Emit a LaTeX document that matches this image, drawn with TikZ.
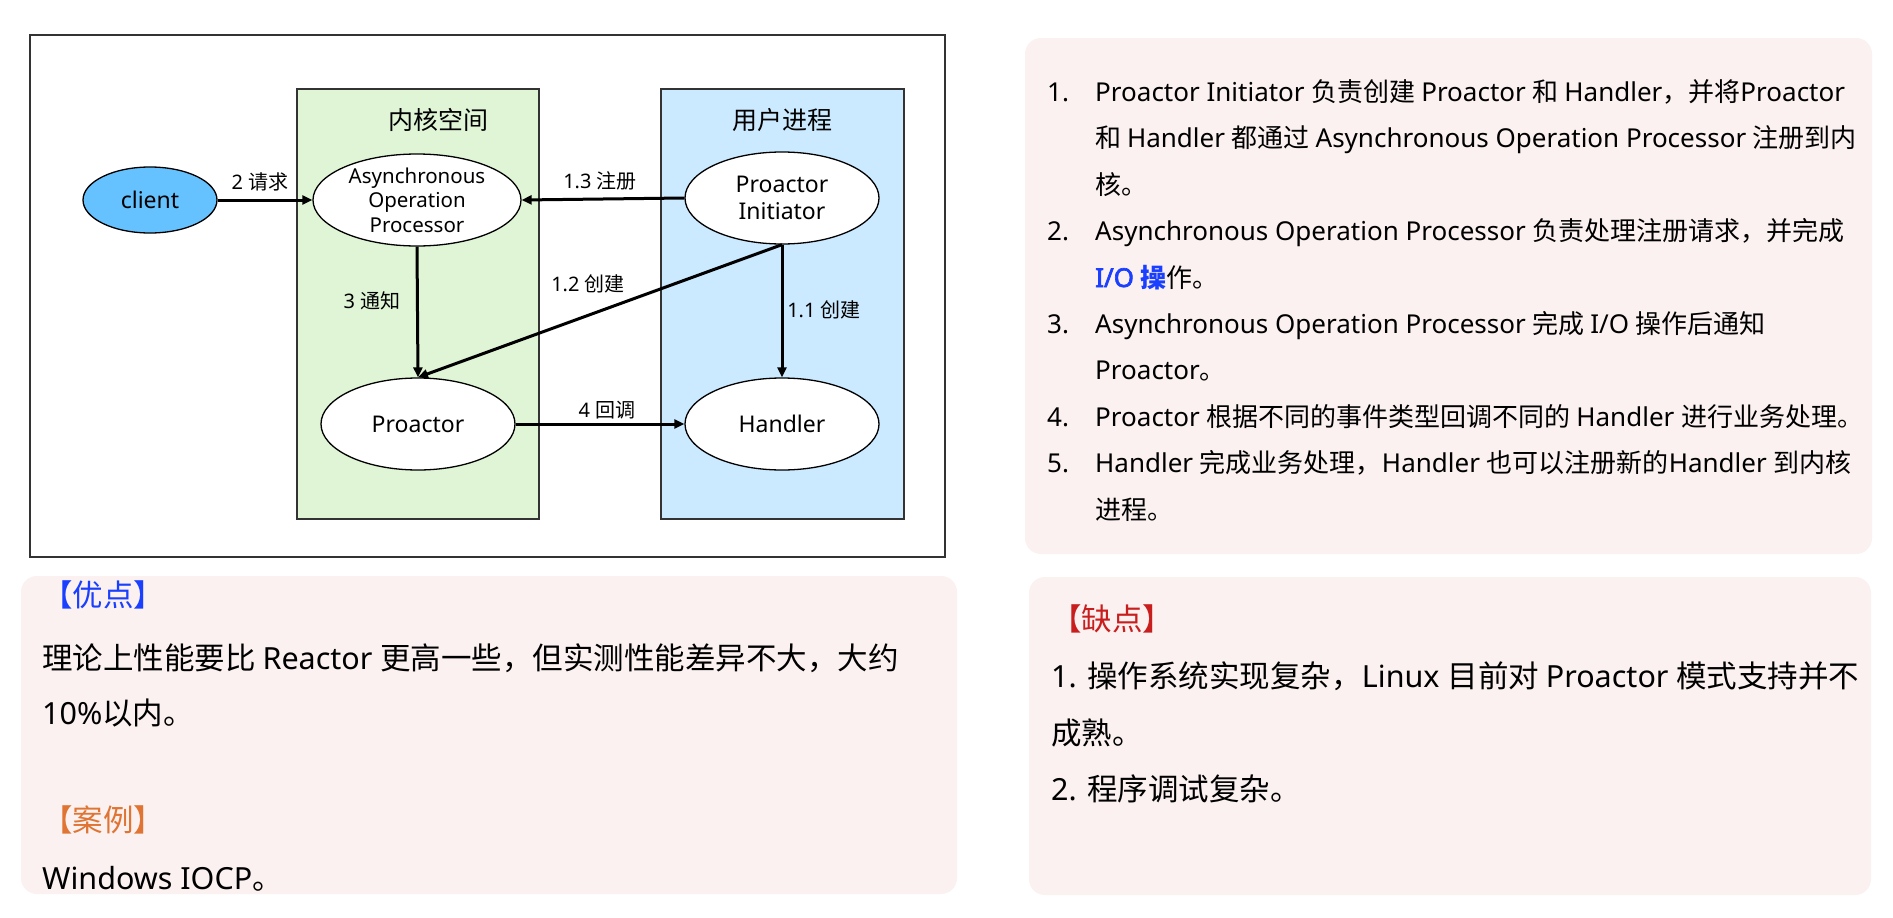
\documentclass[tikz,border=0pt]{standalone}
\usepackage{fontspec}
\setmainfont{Noto Sans CJK SC}
\newfontfamily\latinfont{Noto Sans}[AutoFakeBold=2.5]
\newfontfamily\cjkfont{Noto Sans CJK SC}
\usetikzlibrary{shapes.geometric,arrows.meta}

% Latin runs in Noto Sans, CJK runs in Noto Sans CJK SC
\newXeTeXintercharclass\cjkclass
\newcount\cjkcode
\def\setcjkrange#1#2{\cjkcode=#1\relax
  \loop\XeTeXcharclass\cjkcode=\cjkclass\relax
  \ifnum\cjkcode<#2\relax\advance\cjkcode by 1\relax\repeat}
\setcjkrange{"3000}{"303F}
\setcjkrange{"4E00}{"9FFF}
\setcjkrange{"FF00}{"FFEF}
\XeTeXinterchartoks 0 \cjkclass = {\cjkfont}
\XeTeXinterchartoks 4095 \cjkclass = {\cjkfont}
\XeTeXinterchartoks \cjkclass 0 = {\latinfont}
\XeTeXinterchartoks 4095 0 = {\latinfont}
\XeTeXinterchartokenstate=1

\definecolor{framegray}{HTML}{333333}
\definecolor{kernelgreen}{HTML}{DFF5D6}
\definecolor{userblue}{HTML}{CCEAFF}
\definecolor{clientblue}{HTML}{66C2FF}
\definecolor{panelbg}{HTML}{FAF1F0}
\definecolor{headblue}{HTML}{1A3FFF}
\definecolor{headorange}{HTML}{E07432}
\definecolor{headred}{HTML}{C81E1E}

\tikzset{
  zone/.style={draw=framegray, line width=1.3pt},
  zonetitle/.style={inner sep=0pt, font=\fontsize{25}{30}\selectfont},
  ell/.style={ellipse, draw=black, line width=1.3pt, fill=white, inner sep=0pt,
    align=center, font=\fontsize{23}{26.5}\selectfont},
  elltext/.style={inner sep=0pt, align=center},
  arr/.style={line width=3pt, -{Triangle[length=10pt,width=9pt]}},
  elabel/.style={inner sep=0pt, font=\fontsize{20}{24}\selectfont},
  panel/.style={fill=panelbg, rounded corners=16pt},
  tline/.style={anchor=base west, inner sep=0pt, font=\fontsize{26}{31}\selectfont},
  bline/.style={anchor=base west, inner sep=0pt, font=\fontsize{30.5}{36}\selectfont},
}

\begin{document}
\begin{tikzpicture}[x=1pt,y=-1pt]
\useasboundingbox (0,0) rectangle (1893,918);
\fill[white] (0,0) rectangle (1893,918);

% ---------- diagram ----------
\draw[framegray, line width=1.3pt] (30,35) rectangle (945,557);
\draw[zone, fill=kernelgreen] (297,89) rectangle (539,519);
\draw[zone, fill=userblue] (661,89) rectangle (904,519);
\node[zonetitle] (ktitle) at (438,120) {内核空间};
\node[zonetitle] (utitle) at (782,120) {用户进程};

\node[ell, fill=clientblue, minimum width=134pt, minimum height=66pt] (client) at (150,200) {client};
\node[ell, minimum width=208pt, minimum height=92pt] (aop) at (417,200) {};
\node[elltext, font=\fontsize{20.5}{24.5}\selectfont] (aoptext) at (aop.center) {Asynchronous\\Operation\\Processor};
\node[ell, minimum width=194pt, minimum height=92pt] (pi) at (782,198) {Proactor\\Initiator};
\node[ell, minimum width=194pt, minimum height=92pt] (proactor) at (418,424) {Proactor};
\node[ell, minimum width=194pt, minimum height=92pt] (handler) at (782,424) {Handler};

\draw[arr] (client) -- (aop);
\draw[arr] (pi.west) -- (aop.east);
\draw[arr] (aop.south) -- (proactor.north);
\draw[arr] (pi.south) -- (proactor.north);
\draw[arr] (pi.south) -- (handler.north);
\draw[arr] (proactor) -- (handler);

\node[elabel] (l2) at (260,182) {2 请求};
\node[elabel] (l13) at (600,181) {1.3 注册};
\node[elabel] (l3) at (372,301) {3 通知};
\node[elabel] (l12) at (588,284) {1.2 创建};
\node[elabel] (l11) at (824,310) {1.1 创建};
\node[elabel] (l4) at (607,410) {4 回调};

% ---------- steps panel ----------
\fill[panel] (1025,38) rectangle (1872,554);
\node[tline] (n1) at (1047,101.4) {1.};
\node[tline] (s1a) at (1095,101.4) {Proactor Initiator 负责创建 Proactor 和 Handler，并将Proactor};
\node[tline] (s1b) at (1095,147.8) {和 Handler 都通过 Asynchronous Operation Processor 注册到内};
\node[tline] (s1c) at (1095,194.2) {核。};
\node[tline] (n2) at (1047,240.6) {2.};
\node[tline] (s2a) at (1095,240.6) {Asynchronous Operation Processor 负责处理注册请求，并完成};
\node[tline] (s2b) at (1095,287) {{\color{headblue}\bfseries I/O {\cjkfont 操}}{\cjkfont 作。}};
\node[tline] (n3) at (1047,333.4) {3.};
\node[tline] (s3a) at (1095,333.4) {Asynchronous Operation Processor 完成 I/O 操作后通知};
\node[tline] (s3b) at (1095,379.8) {Proactor。};
\node[tline] (n4) at (1047,426.2) {4.};
\node[tline] (s4a) at (1095,426.2) {Proactor 根据不同的事件类型回调不同的 Handler 进行业务处理。};
\node[tline] (n5) at (1047,472.6) {5.};
\node[tline] (s5a) at (1095,472.6) {Handler 完成业务处理，Handler 也可以注册新的Handler 到内核};
\node[tline] (s5b) at (1095,519) {进程。};

% ---------- pros panel ----------
\fill[panel] (21,576) rectangle (957,894);
\node[bline, text=headblue] (prohead) at (42,606) {【优点】};
\node[bline] (pro1) at (42,669) {理论上性能要比 Reactor 更高一些，但实测性能差异不大，大约};
\node[bline] (pro2) at (42,724) {10\%以内。};
\node[bline, text=headorange] (casehead) at (42,831) {【案例】};
\node[bline] (case1) at (42,889) {Windows IOCP。};

% ---------- cons panel ----------
\fill[panel] (1029,577) rectangle (1871,895);
\node[bline, text=headred] (conhead) at (1051,630) {【缺点】};
\node[bline] (con1) at (1051,687) {1. 操作系统实现复杂，Linux 目前对 Proactor 模式支持并不};
\node[bline] (con2) at (1051,744) {成熟。};
\node[bline] (con3) at (1051,800) {2. 程序调试复杂。};
\end{tikzpicture}
\end{document}
